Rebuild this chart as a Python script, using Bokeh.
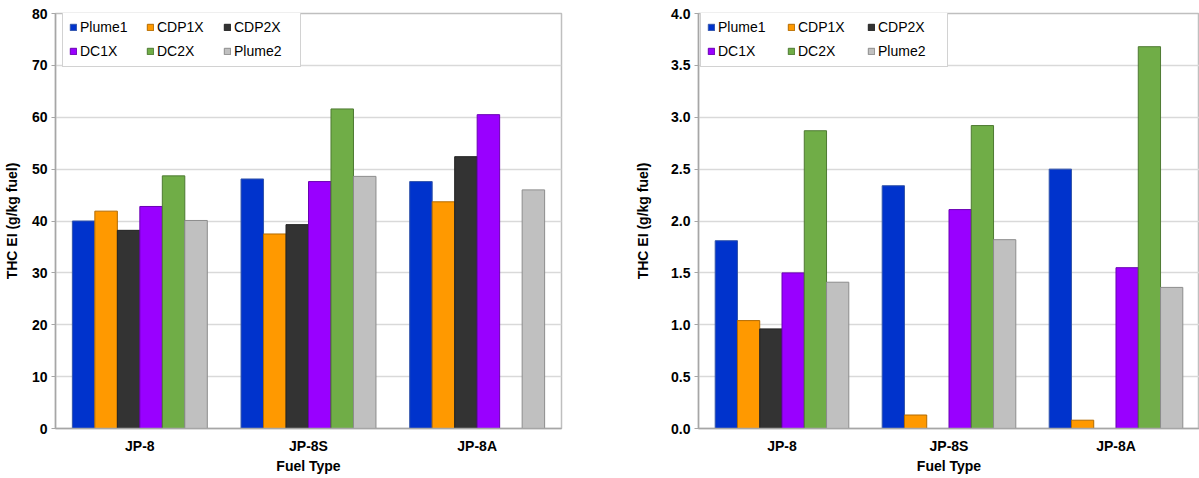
import numpy as np
from bokeh.plotting import figure
from bokeh.models import ColumnDataSource, FactorRange, FixedTicker, NumeralTickFormatter, Legend, LegendItem
from bokeh.layouts import row
from bokeh.transform import dodge
from bokeh.embed import file_html
from bokeh.resources import INLINE

nan = float("nan")

fuels = ["JP-8", "JP-8S", "JP-8A"]
series = ["Plume1", "CDP1X", "CDP2X", "DC1X", "DC2X", "Plume2"]
colors = ["#0033CC", "#FF9900", "#333333", "#9900FF", "#70AD47", "#C0C0C0"]
edges = ["#3355aa", "#b36b00", "#222222", "#6a00b3", "#4e7a32", "#8c8c8c"]

# Left chart (g/kg fuel)
left_plume1 = [40.0, 48.1, 47.6]
left_cdp1x = [41.9, 37.5, 43.7]
left_cdp2x = [38.2, 39.3, 52.4]
left_dc1x = [42.8, 47.6, 60.5]
left_dc2x = [48.7, 61.6, nan]
left_plume2 = [40.1, 48.6, 46.0]
left_ticks = [0, 10, 20, 30, 40, 50, 60, 70, 80]

# Right chart (g/kg fuel)
right_plume1 = [1.81, 2.34, 2.50]
right_cdp1x = [1.04, 0.13, 0.08]
right_cdp2x = [0.96, nan, nan]
right_dc1x = [1.50, 2.11, 1.55]
right_dc2x = [2.87, 2.92, 3.68]
right_plume2 = [1.41, 1.82, 1.36]
right_ticks = [0.0, 0.5, 1.0, 1.5, 2.0, 2.5, 3.0, 3.5, 4.0]

FONT = "Liberation Sans"
GRID = "#D9D9D9"
AXIS = "#A6A6A6"

H = 476
TOP = 13
BOTTOM = 48
FRAME_H = H - TOP - BOTTOM
LEG_H = 54


def make_fig(vals, ticks, fmt, width, border_left, border_right, ylab_standoff,
             legend_x, label_w):
    data = {"fuel": fuels}
    for s, v in zip(series, vals):
        data[s] = np.array(v, dtype=float)
    src = ColumnDataSource(data)
    p = figure(x_range=FactorRange(*fuels), y_range=(ticks[0], ticks[-1]),
               width=width, height=H, output_backend="svg", toolbar_location=None,
               min_border_left=border_left, min_border_right=border_right,
               min_border_top=TOP, min_border_bottom=BOTTOM)
    n = len(series)
    bw = 0.8 / n
    rends = {}
    for i, (s, c, e) in enumerate(zip(series, colors, edges)):
        off = -0.4 + bw * (i + 0.5)
        r = p.vbar(x=dodge("fuel", off, range=p.x_range), top=s, bottom=0, width=bw,
                   source=src, fill_color=c, line_color=e, line_width=1)
        rends[s] = r

    p.background_fill_color = "white"
    p.border_fill_color = "white"
    p.outline_line_color = "#BFBFBF"
    p.outline_line_width = 1.5

    p.xgrid.grid_line_color = None
    p.ygrid.grid_line_color = GRID
    p.ygrid.grid_line_width = 1.5
    p.ygrid.ticker = FixedTicker(ticks=ticks)

    p.yaxis.ticker = FixedTicker(ticks=ticks)
    if fmt:
        p.yaxis.formatter = NumeralTickFormatter(format=fmt)
    p.yaxis.axis_label = "THC EI (g/kg fuel)"
    p.xaxis.axis_label = "Fuel Type"
    for ax in (p.xaxis[0], p.yaxis[0]):
        ax.axis_line_color = AXIS
        ax.axis_line_width = 1.5
        ax.major_label_text_font = FONT
        ax.major_label_text_font_style = "bold"
        ax.major_label_text_font_size = "14px"
        ax.major_label_text_color = "#000000"
        ax.axis_label_text_font = FONT
        ax.axis_label_text_font_style = "bold"
        ax.axis_label_text_font_size = "14px"
        ax.axis_label_text_color = "#000000"
        ax.minor_tick_line_color = None
    p.yaxis.major_tick_line_color = AXIS
    p.yaxis.major_tick_in = 0
    p.yaxis.major_tick_out = 4
    p.yaxis.major_label_standoff = 4
    p.yaxis.axis_label_standoff = ylab_standoff
    p.xaxis.major_tick_line_color = None
    p.xaxis.major_tick_in = 0
    p.xaxis.major_tick_out = 0
    p.xaxis.major_label_standoff = 9
    p.xaxis.axis_label_standoff = 1

    # two rows of three; Bokeh fills the grid column by column
    order = ["Plume1", "DC1X", "CDP1X", "DC2X", "CDP2X", "Plume2"]
    items = [LegendItem(label=s, renderers=[rends[s]]) for s in order]
    legend = Legend(items=items, ncols=3, location=(legend_x, FRAME_H - LEG_H))
    legend.label_text_font = FONT
    legend.label_text_font_size = "14px"
    legend.label_text_color = "#000000"
    legend.glyph_width = 8
    legend.glyph_height = 8
    legend.label_standoff = 3
    legend.label_width = label_w
    legend.label_height = 18
    legend.spacing = 6
    legend.padding = 6
    legend.margin = 0
    legend.border_line_color = "#A6A6A6"
    legend.border_line_width = 1
    legend.background_fill_color = "white"
    legend.background_fill_alpha = 1.0
    p.add_layout(legend, "center")
    return p


left = make_fig([left_plume1, left_cdp1x, left_cdp2x, left_dc1x, left_dc2x, left_plume2],
                left_ticks, None, 600, 55, 39, 9, 7, 60)
right = make_fig([right_plume1, right_cdp1x, right_cdp2x, right_dc1x, right_dc2x, right_plume2],
                 right_ticks, "0.0", 599, 98, 0, 17, 2, 63)

layout = row(left, right, spacing=0)
open("out.html", "w").write(file_html(layout, INLINE))
